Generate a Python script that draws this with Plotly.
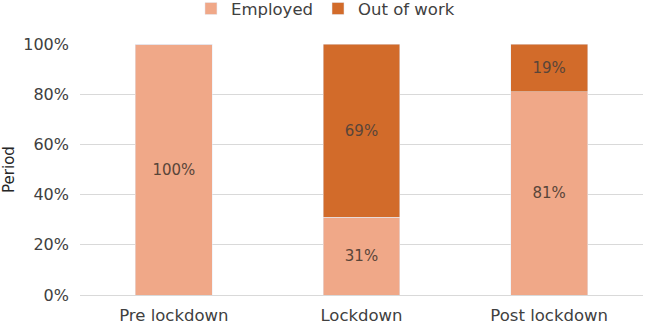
import plotly.graph_objects as go

categories = ["Pre lockdown", "Lockdown", "Post lockdown"]
employed = [100, 31, 81]
out_of_work = [0, 69, 19]

emp_color = "#F0A888"
out_color = "#D26B2A"
text_color = "#404040"
label_color = "#594539"
FONT = "DejaVu Sans"

fig = go.Figure()
fig.add_trace(go.Bar(
    x=categories, y=employed, name="Employed",
    marker_color=emp_color,
    text=[f"{v}%" for v in employed], textposition="inside",
    insidetextanchor="middle",
    textfont=dict(color=label_color, size=15, family=FONT),
))
fig.add_trace(go.Bar(
    x=categories, y=out_of_work, name="Out of work",
    marker_color=out_color,
    text=[f"{v}%" if v > 0 else "" for v in out_of_work], textposition="inside",
    insidetextanchor="middle",
    textfont=dict(color=label_color, size=15, family=FONT),
))

fig.update_layout(
    barmode="stack",
    bargap=0.59,
    width=645, height=326,
    margin=dict(l=80, r=2, t=44, b=31, autoexpand=False),
    paper_bgcolor="white", plot_bgcolor="white",
    font=dict(family=FONT, size=16, color=text_color),
    legend=dict(orientation="h", x=0.436, xanchor="center", y=1.21, yanchor="top",
                yref="paper", font=dict(size=16.5, color=text_color),
                itemwidth=30, traceorder="normal", tracegroupgap=0,
                bgcolor="rgba(0,0,0,0)"),
    uniformtext=dict(mode="show", minsize=10),
)
fig.update_yaxes(
    range=[0, 100], tickvals=[0, 20, 40, 60, 80, 100],
    ticktext=["0%", "20%", "40%", "60%", "80%", "100%"],
    showgrid=True, gridcolor="#D9D9D9", gridwidth=1,
    zeroline=True, zerolinecolor="#D9D9D9", zerolinewidth=1,
    title=dict(text="Period", font=dict(size=15, color="#262626"), standoff=5),
    ticks="", ticklabelstandoff=10, automargin=False,
)
fig.update_xaxes(showline=False, ticks="", ticklabelstandoff=8, automargin=False,
                 tickfont=dict(size=16.5, color=text_color))

fig.write_html("out.html", config={"displayModeBar": False},
               post_script="document.body.style.margin='0';")
